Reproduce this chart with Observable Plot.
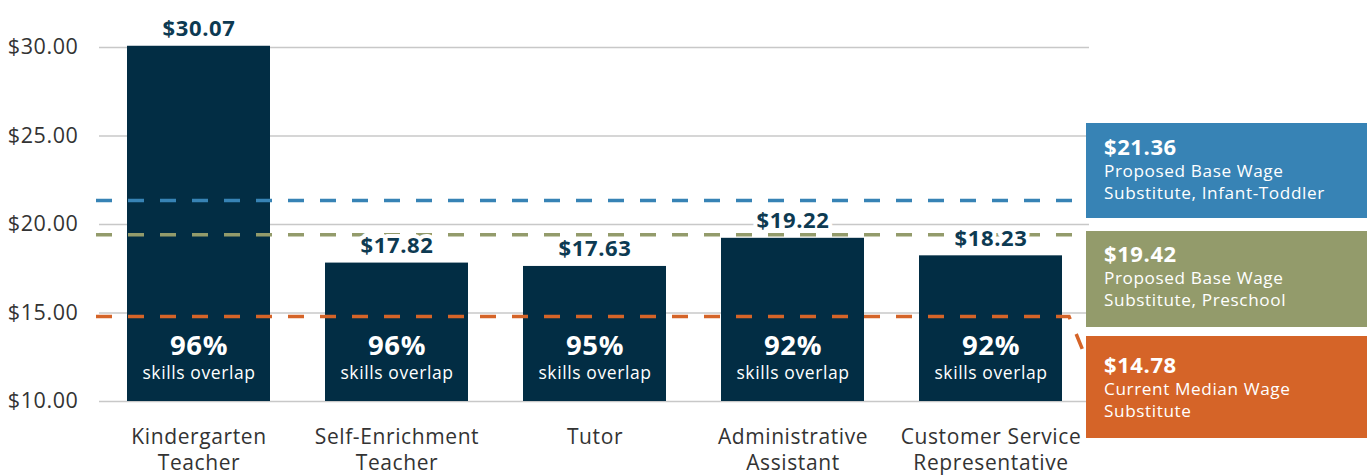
<!DOCTYPE html>
<html>
<head>
<meta charset="utf-8">
<script src="https://cdn.jsdelivr.net/npm/d3@7"></script>
<script src="https://cdn.jsdelivr.net/npm/@observablehq/plot@0.6"></script>
<style>
  html, body { margin: 0; padding: 0; background: #ffffff; }
  #chart svg { display: block; }
  #chart svg text { letter-spacing: 0.6px; }
</style>
</head>
<body>
<div id="chart"></div>
<script>
// ---- data ----
const categories = ["Kindergarten Teacher", "Self-Enrichment Teacher", "Tutor", "Administrative Assistant", "Customer Service Representative"];
const categoryLabels = ["Kindergarten\nTeacher", "Self-Enrichment\nTeacher", "Tutor", "Administrative\nAssistant", "Customer Service\nRepresentative"];
const wages = [30.07, 17.82, 17.63, 19.22, 18.23];
const skillsOverlap = [96, 96, 95, 92, 92];
const refValues = [21.36, 19.42, 14.78];
const refDescriptions = ["Proposed Base Wage\nSubstitute, Infant-Toddler", "Proposed Base Wage\nSubstitute, Preschool", "Current Median Wage\nSubstitute"];
const refColors = ["#3783b5", "#939b6b", "#d56428"];
const yTicks = [10, 15, 20, 25, 30];

const NAVY = "#022d44";
const LABEL = "#0d3a52";
const TEXT = "#333333";
const FONT = "'Open Sans', sans-serif";

const bars = categories.map((c, i) => ({cat: c, label: categoryLabels[i], wage: wages[i], overlap: skillsOverlap[i]}));
const refs = refValues.map((v, i) => ({value: v, desc: refDescriptions[i], color: refColors[i]}));

const fmt = v => "$" + v.toFixed(2);

// orange line with bend into its box, and the legend boxes
function refBoxes(index, scales, values, dim) {
  const g = d3.create("svg:g");
  const left = dim.width - dim.marginRight - 3;
  const w = dim.width - 3 - left;
  const tops = [123, 231, 336];
  const heights = [95, 96, 102];
  const firstBaseline = [32, 31, 37];
  const o = refs[2];
  const bw = typeof scales.x.bandwidth === "function" ? scales.x.bandwidth() : 142;
  const xEnd = scales.x(categories[categories.length - 1]) + bw + 7;
  const y0 = scales.y(o.value);
  g.append("path")
    .attr("d", `M${dim.marginLeft - 3},${y0}H${xEnd}L${left},${tops[2] + 22}`)
    .attr("fill", "none").attr("stroke", o.color).attr("stroke-width", 3.5)
    .attr("stroke-dasharray", "16,16");
  refs.forEach((r, i) => {
    g.append("rect").attr("x", left).attr("y", tops[i]).attr("width", w).attr("height", heights[i]).attr("fill", r.color);
    const t = g.append("text").attr("fill", "white").attr("font-family", FONT).attr("text-anchor", "start");
    t.append("tspan").attr("x", left + 18).attr("y", tops[i] + firstBaseline[i])
      .attr("font-size", 22).attr("font-weight", "bold").text(fmt(r.value));
    r.desc.split("\n").forEach((line, j) => {
      t.append("tspan").attr("x", left + 18).attr("y", tops[i] + firstBaseline[i] + 22 + j * 21.5)
        .attr("font-size", 17.2).text(line);
    });
  });
  return g.node();
}

const chart = Plot.plot({
  width: 1370,
  height: 476,
  marginLeft: 99,
  marginRight: 281,
  marginTop: 0,
  marginBottom: 0,
  style: {fontFamily: FONT, background: "white"},
  x: {domain: categories, paddingInner: 0.28, paddingOuter: 0.14, axis: null},
  y: {domain: [10, 30], range: [401, 47], axis: null},
  color: {type: "identity"},
  marks: [
    Plot.ruleY(yTicks, {stroke: "#c8c8c8", strokeWidth: 1.5}),
    Plot.axisY({ticks: yTicks, tickFormat: fmt, tickSize: 0, tickPadding: 21, fontSize: 21.5, color: TEXT}),
    Plot.barY(bars, {x: "cat", y1: () => 10, y2: "wage", fill: NAVY}),
    Plot.ruleY(refs.slice(0, 2), {y: "value", stroke: "color", strokeWidth: 3.5, strokeDasharray: "16,16", dx: -3}),
    Plot.text(bars, {x: "cat", y: "wage", text: d => fmt(d.wage), lineAnchor: "bottom", dy: -10,
      fontSize: 22, fontWeight: "bold", fill: LABEL, stroke: "white", strokeWidth: 8}),
    Plot.text(bars, {x: "cat", y: () => 10, text: d => d.overlap + "%", lineAnchor: "middle", dy: -55,
      fontSize: 27.5, fontWeight: "bold", fill: "white"}),
    Plot.text(bars, {x: "cat", y: () => 10, text: () => "skills overlap", lineAnchor: "middle", dy: -28,
      fontSize: 17.5, fill: "white"}),
    Plot.text(bars, {x: "cat", y: () => 10, text: "label", lineAnchor: "top", dy: 25, lineHeight: 1.2,
      fontSize: 21, fill: TEXT}),
    refBoxes
  ]
});
document.getElementById("chart").appendChild(chart);
</script>
</body>
</html>
